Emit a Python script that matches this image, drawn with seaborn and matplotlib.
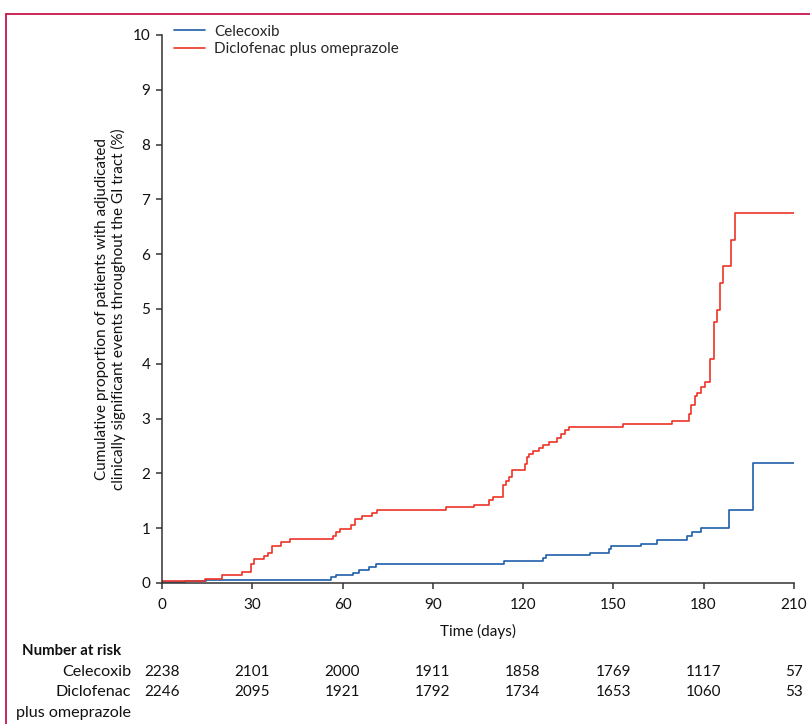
import matplotlib
matplotlib.use("Agg")
import matplotlib.pyplot as plt
from matplotlib.lines import Line2D
import seaborn as sns
import pandas as pd

# curvas acumuladas (escalonadas)
celecoxib_t = [0, 7.6, 14.5, 56.2, 57.8, 63.4, 65.6, 68.9, 71.2, 113.6, 126.5, 127.6,
               142.2, 148.5, 149.4, 159.2, 164.4, 174.6, 176.1, 179.0, 188.3, 196.3, 210]
celecoxib_y = [0.01, 0.04, 0.055, 0.10, 0.145, 0.19, 0.24, 0.29, 0.35, 0.40, 0.46, 0.51,
               0.55, 0.62, 0.68, 0.72, 0.79, 0.85, 0.93, 1.01, 1.33, 2.19, 2.19]

diclo_t = [0, 14.3, 20, 26.7, 29.6, 30.7, 33.9, 35.3, 36.4, 39.5, 42.4, 56.9, 57.8, 59.3,
           62.8, 64.1, 66.5, 69.8, 71.5, 94.4, 103.7, 108.8, 109.9, 113.4, 114.2, 115.3,
           116.3, 120.5, 121.3, 122.1, 123.2, 125.4, 126.5, 128.5, 131.4, 132.5, 133.8,
           135.3, 153.3, 169.5, 175.0, 175.8, 177.0, 177.9, 179.0, 180.5, 182.3, 183.4,
           184.6, 185.4, 186.5, 189.2, 190.4, 210]
diclo_y = [0.03, 0.08, 0.14, 0.20, 0.35, 0.44, 0.49, 0.55, 0.68, 0.74, 0.80, 0.86, 0.93, 0.98,
           1.06, 1.16, 1.23, 1.28, 1.33, 1.38, 1.43, 1.51, 1.57, 1.78, 1.86, 1.93,
           2.07, 2.18, 2.30, 2.35, 2.40, 2.46, 2.52, 2.57, 2.64, 2.72, 2.80,
           2.85, 2.90, 2.96, 3.08, 3.25, 3.41, 3.46, 3.58, 3.67, 4.08, 4.76,
           4.99, 5.48, 5.79, 6.25, 6.76, 6.76]

grupos = ["Celecoxib", "Diclofenac plus omeprazole"]
colores = ["#1c5fa8", "#ee3427"]

tiempos_riesgo = [0, 30, 60, 90, 120, 150, 180, 210]
riesgo_cele = [2238, 2101, 2000, 1911, 1858, 1769, 1117, 57]
riesgo_diclo = [2246, 2095, 1921, 1792, 1734, 1653, 1060, 53]

df = pd.concat([
    pd.DataFrame({"time": celecoxib_t, "cum": celecoxib_y, "grupo": grupos[0]}),
    pd.DataFrame({"time": diclo_t, "cum": diclo_y, "grupo": grupos[1]}),
], ignore_index=True)

sns.set_style("ticks")
plt.rcParams["font.family"] = ["Lato", "DejaVu Sans"]
gris = "#333333"
negro = "#111111"

fig = plt.figure(figsize=(8.1, 7.24), dpi=100)
ax = fig.add_axes([0.2, 0.1948, 0.78, 0.7569])

sns.lineplot(data=df, x="time", y="cum", hue="grupo", palette=colores,
             drawstyle="steps-post", estimator=None, linewidth=1.2, ax=ax)

ax.set_xlim(0, 210)
ax.set_ylim(0, 10)
ax.set_xticks(tiempos_riesgo)
ax.set_yticks(range(0, 11))
sns.despine(ax=ax)
for s in ["left", "bottom"]:
    ax.spines[s].set_color(gris)
    ax.spines[s].set_linewidth(1.1)
    ax.spines[s].set_clip_on(False)
ax.tick_params(colors=gris, labelcolor=negro, width=1.1, length=4.5,
               labelsize=11, pad=4)
ax.tick_params(axis="x", pad=6)
ax.set_xlabel("Time (days)", fontsize=11, color=negro, labelpad=9)
ax.set_ylabel("Cumulative proportion of patients with adjudicated\n"
              "clinically significant events throughout the GI tract (%)",
              fontsize=11, color=negro, labelpad=5, linespacing=1.1)

leg = ax.legend(loc="upper left", bbox_to_anchor=(0.01, 1.03), frameon=False,
                fontsize=11, handlelength=2.0, handletextpad=0.6,
                labelspacing=0.25, borderaxespad=0)
for h in leg.get_lines():
    h.set_linewidth(1.2)

# tabla de pacientes en riesgo
xr = 131 / 810
fig.text(22 / 810, 1 - 651 / 724, "Number at risk", fontsize=10.8, fontweight="bold",
         ha="left", va="center", color=negro)
fig.text(xr, 1 - 672 / 724, "Celecoxib", fontsize=11.6, ha="right", va="center",
         color=negro)
fig.text(xr, 1 - 692 / 724, "Diclofenac", fontsize=11.6, ha="right", va="center",
         color=negro)
fig.text(xr, 1 - 713 / 724, "plus omeprazole", fontsize=11.6, ha="right", va="center",
         color=negro)
trans = ax.get_xaxis_transform()
for t, a, b in zip(tiempos_riesgo, riesgo_cele, riesgo_diclo):
    ax.text(t, -(672 - 583) / 548, str(a), transform=trans, ha="center", va="center",
            fontsize=11, color=negro, clip_on=False)
    ax.text(t, -(692 - 583) / 548, str(b), transform=trans, ha="center", va="center",
            fontsize=11, color=negro, clip_on=False)

# marco rojo de la revista
marco = "#c8174b"
fig.add_artist(Line2D([6 / 810, 6 / 810], [0, 1 - 14 / 724], transform=fig.transFigure,
                      color=marco, linewidth=1.3))
fig.add_artist(Line2D([6 / 810, 1], [1 - 14 / 724, 1 - 14 / 724], transform=fig.transFigure,
                      color=marco, linewidth=1.3))

fig.savefig("out.png", dpi=100)
